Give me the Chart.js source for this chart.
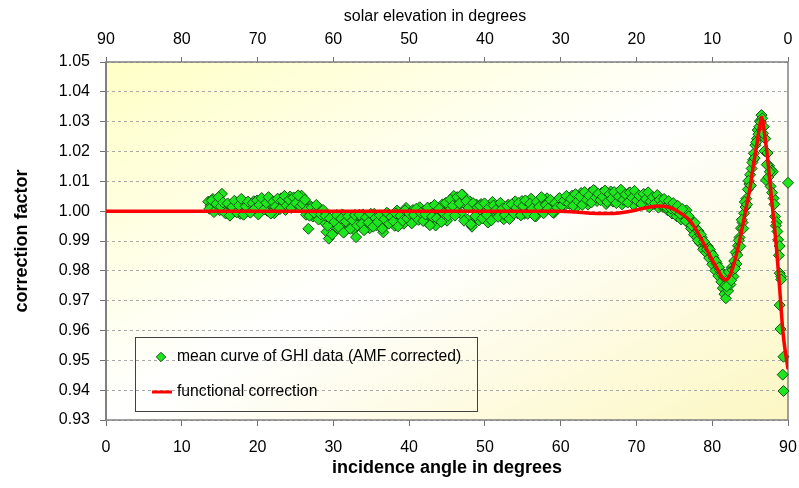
<!DOCTYPE html>
<html>
<head>
<meta charset="utf-8">
<script src="https://cdn.jsdelivr.net/npm/chart.js@4.4.1/dist/chart.umd.min.js"></script>
<style>
  html, body { margin: 0; padding: 0; background: #fff; }
</style>
</head>
<body>
<canvas id="chart" width="799" height="488"></canvas>
<script>
// mean curve of GHI data, incidence angle (deg) and correction factor
// first set of bins
const ghiAngleA = [
  13.5, 13.8, 14.1, 14.4, 14.7, 15.0, 15.3, 15.6, 15.9, 16.2,
  16.5, 16.8, 17.1, 17.4, 17.7, 18.0, 18.3, 18.6, 18.9, 19.2,
  19.5, 19.8, 20.1, 20.4, 20.7, 21.0, 21.3, 21.6, 21.9, 22.2,
  22.5, 22.8, 23.1, 23.4, 23.7, 24.0, 24.3, 24.6, 24.9, 25.2,
  25.5, 25.8, 26.1, 26.4, 26.7, 27.0, 27.3, 27.6, 27.9, 28.2,
  28.5, 28.8, 29.1, 29.4, 29.7, 30.0, 30.3, 30.6, 30.9, 31.2,
  31.5, 31.8, 32.1, 32.4, 32.7, 33.0, 33.3, 33.6, 33.9, 34.2,
  34.5, 34.8, 35.1, 35.4, 35.7, 36.0, 36.3, 36.6, 36.9, 37.2,
  37.5, 37.8, 38.1, 38.4, 38.7, 39.0, 39.3, 39.6, 39.9, 40.2,
  40.5, 40.8, 41.1, 41.4, 41.7, 42.0, 42.3, 42.6, 42.9, 43.2,
  43.5, 43.8, 44.1, 44.4, 44.7, 45.0, 45.3, 45.6, 45.9, 46.2,
  46.5, 46.8, 47.1, 47.4, 47.7, 48.0, 48.3, 48.6, 48.9, 49.2,
  49.5, 49.8, 50.1, 50.4, 50.7, 51.0, 51.3, 51.6, 51.9, 52.2,
  52.5, 52.8, 53.1, 53.4, 53.7, 54.0, 54.3, 54.6, 54.9, 55.2,
  55.5, 55.8, 56.1, 56.4, 56.7, 57.0, 57.3, 57.6, 57.9, 58.2,
  58.5, 58.8, 59.1, 59.4, 59.7, 60.0, 60.3, 60.6, 60.9, 61.2,
  61.5, 61.8, 62.1, 62.4, 62.7, 63.0, 63.3, 63.6, 63.9, 64.2,
  64.5, 64.8, 65.1, 65.4, 65.7, 66.0, 66.3, 66.6, 66.9, 67.2,
  67.5, 67.8, 68.1, 68.4, 68.7, 69.0, 69.3, 69.6, 69.9, 70.2,
  70.5, 70.8, 71.1, 71.4, 71.7, 72.0, 72.3, 72.6, 72.9, 73.2,
  73.5, 73.8, 74.1, 74.4, 74.7, 75.0, 75.3, 75.6, 75.9, 76.2,
  76.4, 76.6, 76.8, 77.0, 77.2, 77.4, 77.6, 77.8, 78.0, 78.2,
  78.4, 78.6, 78.8, 79.0, 79.2, 79.4, 79.6, 79.8, 80.0, 80.2,
  80.4, 80.6, 80.8, 81.0, 81.2, 81.4, 81.5, 81.6, 81.7, 81.8,
  82.0, 82.1, 82.3, 82.4, 82.6, 82.8, 82.9, 83.1, 83.2, 83.4,
  83.6, 83.8, 84.0, 84.2, 84.4, 84.5, 84.7, 84.9, 85.0, 85.2,
  85.4, 85.5, 85.7, 85.9, 86.0, 86.2, 86.3, 86.5, 86.6, 86.8,
  86.9, 87.0, 87.1, 87.3, 87.5, 87.7, 87.8, 88.0, 88.1, 88.3,
  88.5, 88.7, 88.9, 88.9, 89.1, 89.1, 88.9, 89.0, 89.4, 89.3,
  89.4, 90.0
];
const ghiFactorA = [
  1.0032, 1.0018, 1.0041, 1.0012, 1.0028, 1.0003, 1.0058, 1.0021, 0.9994, 1.0011,
  1.0019, 1.0004, 1.0031, 1.0013, 0.9991, 1.0022, 1.0029, 1.0008, 1.0002, 1.0024,
  1.0033, 1.0012, 0.9989, 1.0017, 1.0034, 1.0009, 1.0001, 1.0038, 1.0021, 0.9993,
  1.0027, 1.0011, 1.0043, 1.0018, 1.0004, 1.0032, 1.0049, 1.0023, 1.0039, 1.0014,
  1.0031, 1.0052, 1.0009, 0.9988, 0.9941, 1.0017, 0.9982, 1.0003, 0.9991, 1.0008,
  0.9972, 0.9963, 0.9931, 0.9908, 0.9968, 0.9951, 0.9983, 0.9942, 0.9961, 0.9989,
  0.9934, 0.9972, 0.9953, 0.9981, 0.9938, 0.9913, 0.9971, 0.9952, 0.9989, 0.9963,
  0.9981, 0.9943, 0.9972, 0.9991, 0.9952, 0.9984, 0.9961, 0.9929, 0.9973, 0.9992,
  0.9962, 0.9983, 0.9951, 1.0002, 0.9971, 0.9993, 0.9958, 1.0011, 0.9982, 0.9964,
  1.0004, 0.9974, 0.9993, 1.0013, 0.9981, 1.0002, 0.9963, 0.9992, 1.0012, 0.9971,
  0.9952, 1.0003, 0.9984, 1.0023, 0.9991, 0.9968, 1.0014, 1.0032, 1.0051, 1.0012,
  1.0043, 0.9992, 1.0054, 1.0021, 0.9972, 1.0033, 0.9948, 1.0004, 1.0022, 0.9969,
  1.0024, 0.9991, 1.0013, 0.9962, 1.0002, 1.0031, 0.9983, 1.0011, 0.9992, 1.0021,
  0.9973, 1.0004, 1.0022, 0.9984, 1.0012, 1.0033, 0.9993, 1.0013, 1.0034, 0.9991,
  1.0021, 1.0003, 1.0042, 1.0012, 0.9982, 1.0023, 1.0031, 1.0004, 1.0024, 1.0043,
  1.0013, 1.0032, 0.9994, 1.0022, 1.0041, 1.0014, 1.0033, 1.0021, 1.0043, 1.0024,
  1.0052, 1.0033, 1.0014, 1.0044, 1.0061, 1.0032, 1.0053, 1.0022, 1.0063, 1.0041,
  1.0068, 1.0034, 1.0052, 1.0061, 1.0043, 1.0024, 1.0053, 1.0066, 1.0032, 1.0054,
  1.0062, 1.0041, 1.0023, 1.0052, 1.0033, 1.0061, 1.0042, 1.0021, 1.0053, 1.0034,
  1.0043, 1.0022, 1.0051, 1.0031, 1.0013, 1.0042, 1.0024, 1.0033, 1.0012, 1.0031,
  1.0014, 1.0022, 1.0003, 1.0021, 0.9992, 1.0011, 0.9983, 1.0002, 0.9972, 0.9991,
  0.9982, 1.0003, 0.9961, 0.9975, 0.9942, 0.9963, 0.9921, 0.9944, 0.9912, 0.9933,
  0.9893, 0.9912, 0.9872, 0.9891, 0.9861, 0.9882, 0.9843, 0.9862, 0.9822, 0.9843,
  0.9801, 0.9824, 0.9783, 0.9802, 0.9763, 0.9742, 0.9781, 0.9722, 0.9752, 0.9708,
  0.9772, 0.9733, 0.9792, 0.9754, 0.9812, 0.9781, 0.9833, 0.9862, 0.9823, 0.9884,
  0.9912, 0.9943, 0.9962, 0.9993, 1.0014, 1.0042, 1.0073, 1.0091, 1.0122, 1.0143,
  1.0172, 1.0194, 1.0221, 1.0243, 1.0272, 1.0283, 1.0302, 1.0322, 1.0311, 1.0283,
  1.0202, 1.0243, 1.0104, 1.0195, 1.0152, 1.0083, 1.0137, 1.0132, 1.0043, 0.9982,
  0.9963, 0.9904, 0.9883, 0.9792, 0.9781, 0.9771, 0.9685, 0.9605, 0.9512, 0.9452,
  0.9397, 1.0095
];
// second set of bins (in between the first ones)
const ghiAngleB = [
  13.65, 13.95, 14.25, 14.55, 14.85, 15.15, 15.45, 15.75, 16.05, 16.35,
  16.65, 16.95, 17.25, 17.55, 17.85, 18.15, 18.45, 18.75, 19.05, 19.35,
  19.65, 19.95, 20.25, 20.55, 20.85, 21.15, 21.45, 21.75, 22.05, 22.35,
  22.65, 22.95, 23.25, 23.55, 23.85, 24.15, 24.45, 24.75, 25.05, 25.35,
  25.65, 25.95, 26.25, 26.55, 26.85, 27.15, 27.45, 27.75, 28.05, 28.35,
  28.65, 28.95, 29.25, 29.55, 29.85, 30.15, 30.45, 30.75, 31.05, 31.35,
  31.65, 31.95, 32.25, 32.55, 32.85, 33.15, 33.45, 33.75, 34.05, 34.35,
  34.65, 34.95, 35.25, 35.55, 35.85, 36.15, 36.45, 36.75, 37.05, 37.35,
  37.65, 37.95, 38.25, 38.55, 38.85, 39.15, 39.45, 39.75, 40.05, 40.35,
  40.65, 40.95, 41.25, 41.55, 41.85, 42.15, 42.45, 42.75, 43.05, 43.35,
  43.65, 43.95, 44.25, 44.55, 44.85, 45.15, 45.45, 45.75, 46.05, 46.35,
  46.65, 46.95, 47.25, 47.55, 47.85, 48.15, 48.45, 48.75, 49.05, 49.35,
  49.65, 49.95, 50.25, 50.55, 50.85, 51.15, 51.45, 51.75, 52.05, 52.35,
  52.65, 52.95, 53.25, 53.55, 53.85, 54.15, 54.45, 54.75, 55.05, 55.35,
  55.65, 55.95, 56.25, 56.55, 56.85, 57.15, 57.45, 57.75, 58.05, 58.35,
  58.65, 58.95, 59.25, 59.55, 59.85, 60.15, 60.45, 60.75, 61.05, 61.35,
  61.65, 61.95, 62.25, 62.55, 62.85, 63.15, 63.45, 63.75, 64.05, 64.35,
  64.65, 64.95, 65.25, 65.55, 65.85, 66.15, 66.45, 66.75, 67.05, 67.35,
  67.65, 67.95, 68.25, 68.55, 68.85, 69.15, 69.45, 69.75, 70.05, 70.35,
  70.65, 70.95, 71.25, 71.55, 71.85, 72.15, 72.45, 72.75, 73.05, 73.35,
  73.65, 73.95, 74.25, 74.55, 74.85, 75.15, 75.45, 75.75, 76.05,
  76.5, 76.9, 77.3, 77.7, 78.1, 78.5, 78.9, 79.3, 79.7, 80.1,
  80.5, 80.9, 81.3, 81.9, 82.2, 82.5, 82.7, 83.0, 83.3, 83.5,
  83.7, 83.9, 84.1, 84.3, 84.6, 84.8, 85.1, 85.3, 85.6, 85.8,
  86.1, 86.4, 86.7, 87.2, 87.4, 87.6, 87.9, 88.2, 88.4, 88.6,
  88.8
];
const ghiFactorB = [
  1.0008, 1.0036, 0.9997, 1.0024, 1.0047, 1.0015, 1.0029, 0.9993, 1.0026, 0.9985,
  1.0014, 1.0035, 0.9996, 1.0019, 1.0041, 0.9988, 1.0016, 1.0032, 0.9995, 1.0027,
  1.0009, 1.0036, 1.0021, 1.0044, 1.0006, 1.0028, 1.0047, 0.9992, 1.0031, 1.0015,
  1.0042, 1.0007, 1.0036, 1.0051, 1.0019, 1.0038, 1.0011, 1.0046, 1.0027, 1.0053,
  1.0016, 1.0024, 1.0038, 1.0006, 0.9985, 1.0013, 0.9995, 1.0021, 0.9972, 0.9989,
  1.0004, 0.9985, 0.9951, 0.9976, 0.9922, 0.9964, 0.9987, 0.9946, 0.9975, 0.9928,
  0.9966, 0.9983, 0.9941, 0.9969, 0.9987, 0.9952, 0.9988, 0.9957, 0.9936, 0.9979,
  0.9962, 0.9991, 0.9948, 0.9977, 0.9964, 0.9986, 0.9941, 0.9973, 0.9995, 0.9958,
  0.9981, 0.9966, 0.9992, 0.9949, 0.9984, 0.9968, 1.0003, 0.9976, 0.9991, 0.9959,
  0.9987, 1.0008, 0.9971, 0.9994, 0.9967, 0.9989, 1.0012, 0.9953, 0.9982, 1.0021,
  0.9976, 1.0008, 0.9964, 0.9993, 1.0028, 0.9985, 1.0039, 1.0018, 0.9985, 1.0047,
  1.0026, 1.0056, 0.9968, 1.0034, 1.0011, 0.9956, 1.0027, 0.9984, 1.0013, 1.0018,
  0.9976, 1.0026, 0.9988, 1.0012, 0.9969, 1.0019, 1.0004, 0.9981, 1.0028, 1.0009,
  0.9987, 1.0017, 0.9974, 1.0023, 0.9992, 1.0011, 1.0027, 0.9986, 1.0017, 1.0036,
  0.9991, 1.0025, 1.0008, 0.9984, 1.0031, 1.0014, 1.0047, 0.9993, 1.0021, 1.0009,
  1.0038, 0.9996, 1.0027, 1.0012, 1.0044, 1.0018, 1.0036, 1.0051, 1.0026, 1.0041,
  1.0018, 1.0057, 1.0034, 1.0049, 1.0021, 1.0064, 1.0038, 1.0052, 1.0029, 1.0071,
  1.0046, 1.0058, 1.0037, 1.0048, 1.0069, 1.0031, 1.0057, 1.0042, 1.0064, 1.0027,
  1.0049, 1.0072, 1.0038, 1.0056, 1.0029, 1.0063, 1.0045, 1.0068, 1.0036, 1.0052,
  1.0024, 1.0058, 1.0041, 1.0063, 1.0032, 1.0047, 1.0026, 1.0054, 1.0038, 1.0022,
  1.0041, 1.0013, 1.0034, 1.0009, 1.0027, 1.0004, 1.0018, 0.9991, 1.0007,
  0.9968, 0.9983, 0.9952, 0.9961, 0.9902, 0.9921, 0.9898, 0.9872, 0.9871, 0.9852,
  0.9832, 0.9812, 0.9788, 0.9748, 0.9796, 0.9768, 0.9803, 0.9808, 0.9853, 0.9902,
  0.9882, 0.9971, 0.9942, 1.0031, 1.0022, 1.0102, 1.0086, 1.0163, 1.0178, 1.0231,
  1.0258, 1.0298, 1.0261, 1.0156, 1.0114, 1.0132, 1.0062, 1.0023, 0.9951, 0.9932,
  0.9852
];

// functional correction curve
const fitAngle = [
  0, 60, 62, 64, 66, 68, 70, 71, 72, 73,
  74, 75, 76, 77, 78, 79, 80, 80.6, 81.2, 81.7,
  82.2, 82.7, 83.2, 83.6, 84, 84.5, 85, 85.4, 85.8, 86.1,
  86.3, 86.5, 86.7, 86.9, 87.3, 87.6, 88, 88.5, 88.9, 89.35,
  90
];
const fitFactor = [
  1.0, 1.0, 0.9997, 0.9993, 0.9992, 0.9995, 1.0004, 1.001, 1.0015, 1.0017,
  1.0015, 1.0006, 0.999, 0.997, 0.9932, 0.9885, 0.9836, 0.981, 0.9782, 0.977,
  0.9778, 0.981, 0.9855, 0.99, 0.995, 1.0015, 1.008, 1.015, 1.021, 1.026,
  1.029, 1.0315, 1.03, 1.026, 1.018, 1.01, 1.0, 0.987, 0.974, 0.959,
  0.947
];

const seriesNames = ['mean curve of GHI data (AMF corrected)', 'functional correction'];
const angleRange = [0, 90, 10];
const factorRange = [0.93, 1.05, 0.01];
const bottomTitle = 'incidence angle in degrees';
const topTitle = 'solar elevation in degrees';
const leftTitle = 'correction factor';

const FONT = "'Liberation Sans', Arial, sans-serif";
Chart.defaults.font.family = FONT;
Chart.defaults.color = '#000';

const green = '#1ee61e';
const greenEdge = '#145214';
const red = '#ff0000';

const toPoints = (xs, ys) => xs.map((x, i) => ({ x, y: ys[i] }));

// keep the plot frame where the original has it
const fitHorizontal = h => s => { s.height = h; s.paddingLeft = 0; s.paddingRight = 0; };

const decor = {
  id: 'decor',
  beforeDraw(chart) {
    const { ctx, chartArea: a } = chart;
    const w = a.right - a.left, h = a.bottom - a.top;
    ctx.save();
    ctx.translate(a.left, a.top);
    ctx.scale(w, h);
    const g = ctx.createLinearGradient(0, 0, 1, 1);
    g.addColorStop(0, '#ffffc6');
    g.addColorStop(0.5, '#ffffff');
    g.addColorStop(1, '#fcf7c2');
    ctx.fillStyle = g;
    ctx.fillRect(0, 0, 1, 1);
    ctx.restore();
  },
  beforeDatasetsDraw(chart) {
    const { ctx, chartArea: a } = chart;
    ctx.save();
    ctx.strokeStyle = '#808080';
    ctx.lineWidth = 1.5;
    ctx.strokeRect(a.left, a.top, a.right - a.left, a.bottom - a.top);
    ctx.lineWidth = 2;
    ctx.beginPath();
    ctx.moveTo(a.left, a.top);
    ctx.lineTo(a.left, a.bottom);
    ctx.stroke();
    ctx.restore();
  },
  afterDraw(chart) {
    const { ctx } = chart;
    ctx.save();
    // top axis title
    ctx.fillStyle = '#000';
    ctx.font = '16px ' + FONT;
    ctx.textAlign = 'center';
    ctx.textBaseline = 'middle';
    ctx.fillText(topTitle, 435, 17);

    // legend box
    ctx.strokeStyle = '#404040';
    ctx.lineWidth = 1;
    ctx.strokeRect(135.5, 337.5, 342, 74);
    const ds = chart.data.datasets;
    ctx.beginPath();
    ctx.moveTo(156.3, 357);
    ctx.lineTo(161, 352.3);
    ctx.lineTo(165.7, 357);
    ctx.lineTo(161, 361.7);
    ctx.closePath();
    ctx.fillStyle = ds[1].backgroundColor;
    ctx.fill();
    ctx.strokeStyle = ds[1].borderColor;
    ctx.lineWidth = 1;
    ctx.stroke();
    ctx.strokeStyle = ds[0].borderColor;
    ctx.lineWidth = 3;
    ctx.beginPath();
    ctx.moveTo(152, 392);
    ctx.lineTo(172, 392);
    ctx.stroke();
    ctx.fillStyle = '#000';
    ctx.font = '15.7px ' + FONT;
    ctx.textAlign = 'left';
    ctx.fillText(ds[1].label, 177, 357);
    ctx.fillText(ds[0].label, 177, 392);
    ctx.restore();
  }
};

new Chart(document.getElementById('chart').getContext('2d'), {
  type: 'scatter',
  data: {
    datasets: [
      {
        label: seriesNames[1],
        data: toPoints(fitAngle, fitFactor),
        showLine: true,
        borderColor: red,
        backgroundColor: red,
        borderWidth: 3.5,
        pointRadius: 0,
        cubicInterpolationMode: 'monotone',
        order: 0
      },
      {
        label: seriesNames[0],
        data: toPoints(ghiAngleA, ghiFactorA).concat(toPoints(ghiAngleB, ghiFactorB)),
        pointStyle: 'rectRot',
        pointRadius: 5.5,
        backgroundColor: green,
        borderColor: greenEdge,
        borderWidth: 1,
        clip: false,
        order: 1
      }
    ]
  },
  options: {
    responsive: false,
    animation: false,
    events: [],
    layout: { padding: { left: 0, top: 0, right: 11, bottom: 0 } },
    plugins: { legend: { display: false }, tooltip: { enabled: false } },
    scales: {
      x: {
        type: 'linear',
        position: 'bottom',
        min: angleRange[0],
        max: angleRange[1],
        afterFit: fitHorizontal(68),
        ticks: { stepSize: angleRange[2], padding: 12, maxRotation: 0, font: { size: 16 }, color: '#000' },
        grid: { drawOnChartArea: false, tickLength: 6, tickColor: '#707070' },
        border: { display: false },
        title: { display: true, text: bottomTitle, color: '#000', font: { size: 18, weight: 'bold' }, padding: { top: 0, bottom: 9 } }
      },
      xTop: {
        type: 'linear',
        position: 'top',
        min: angleRange[0],
        max: angleRange[1],
        reverse: true,
        afterFit: fitHorizontal(62),
        ticks: { stepSize: angleRange[2], padding: 8, maxRotation: 0, font: { size: 16 }, color: '#000' },
        grid: { drawOnChartArea: false, tickLength: 5, tickColor: '#707070' },
        border: { display: false }
      },
      y: {
        min: factorRange[0],
        max: factorRange[1],
        afterFit: s => { s.width = 106; s.paddingTop = 0; s.paddingBottom = 0; },
        ticks: { stepSize: factorRange[2], padding: 10, font: { size: 16 }, color: '#000', callback: v => v.toFixed(2) },
        grid: { color: '#a8a8a8', lineWidth: 1, tickLength: 6, tickColor: '#707070' },
        border: { display: false, dash: [3, 3] },
        title: { display: true, text: leftTitle, color: '#000', font: { size: 18, weight: 'bold' }, padding: { top: 11, bottom: 0 } }
      }
    }
  },
  plugins: [decor]
});
</script>
</body>
</html>
